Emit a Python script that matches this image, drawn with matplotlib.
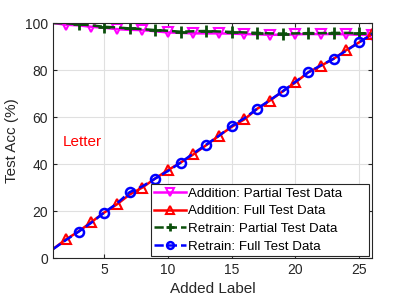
import matplotlib
matplotlib.use("Agg")
import matplotlib.pyplot as plt
import numpy as np

plt.rcParams['font.family'] = ['Liberation Sans', 'DejaVu Sans']

labels = np.arange(1, 27)
add_partial = [100.0, 99.3, 99.0, 98.4, 98.0, 97.4, 97.1, 97.0, 96.5, 96.0, 95.8, 95.6, 95.6,
               95.6, 95.5, 95.3, 95.2, 95.0, 95.0, 95.2, 95.3, 95.3, 95.3, 95.2, 95.0, 95.0]
add_full = [3.8, 7.9, 11.3, 15.3, 19.3, 22.8, 27.0, 30.0, 33.8, 37.4, 40.6, 44.1, 48.0,
            52.0, 55.8, 59.0, 63.5, 67.0, 70.9, 74.7, 79.0, 81.8, 84.8, 88.5, 91.8, 95.2]
ret_partial = [100.0, 99.9, 99.5, 99.0, 98.4, 98.1, 97.7, 97.4, 97.0, 96.7, 96.3, 96.5, 96.6,
               96.4, 96.2, 96.0, 95.8, 95.6, 95.5, 95.6, 95.7, 95.7, 95.8, 95.8, 95.6, 95.5]
ret_full = [3.8, 7.6, 11.2, 15.0, 19.3, 23.2, 28.0, 30.5, 33.8, 37.0, 40.6, 44.5, 48.2,
            52.0, 56.2, 59.5, 63.5, 67.2, 70.9, 75.0, 79.0, 82.0, 84.8, 88.3, 91.8, 95.2]

fig = plt.figure(figsize=(4.11, 2.99), dpi=100)
ax = fig.add_axes([0.129, 0.137, 0.776, 0.786])

even = list(range(1, 26, 2))
odd = list(range(2, 25, 2))
ax.plot(labels, add_partial, '-', color='#FF00FF', lw=1.8, marker='v', ms=7, mfc='none',
        mew=1.5, markevery=even, label='Addition: Partial Test Data')
ax.plot(labels, add_full, '-', color='#FF0000', lw=1.8, marker='^', ms=7, mfc='none',
        mew=1.5, markevery=even, label='Addition: Full Test Data')
ax.plot(labels, ret_partial, '--', color='#0B4F0B', lw=1.8, marker='+', ms=8,
        mew=2, markevery=odd, label='Retrain: Partial Test Data')
ax.plot(labels, ret_full, '--', color='#0000FF', lw=1.8, marker='o', ms=6.5, mfc='none',
        mew=1.8, markevery=odd, label='Retrain: Full Test Data')

ax.text(1.8, 49.5, 'Letter', color='#FF0000', fontsize=11, va='center')

ax.set_xlim(1, 26)
ax.set_ylim(0, 100)
ax.set_xticks([5, 10, 15, 20, 25])
ax.set_yticks([0, 20, 40, 60, 80, 100])
ax.grid(True, color='#E0E0E0', lw=0.8)
ax.set_axisbelow(True)
ax.tick_params(direction='in', top=True, right=True, labelsize=10, colors='#262626', length=3)
for s in ax.spines.values():
    s.set_color('#262626')
    s.set_linewidth(0.8)
ax.set_xlabel('Added Label', fontsize=11, color='#262626')
ax.set_ylabel('Test Acc (%)', fontsize=11, color='#262626')

leg = ax.legend(loc='lower left', bbox_to_anchor=(0.306, 0.0085, 0.684, 0.3), mode='expand',
                fontsize=9.6, handlelength=2.4, handletextpad=0.15, borderpad=0.25,
                labelspacing=0.4, fancybox=False, framealpha=1, edgecolor='#262626',
                borderaxespad=0, markerscale=0.75)
leg.get_frame().set_linewidth(0.8)

fig.savefig('out.png', dpi=100)
